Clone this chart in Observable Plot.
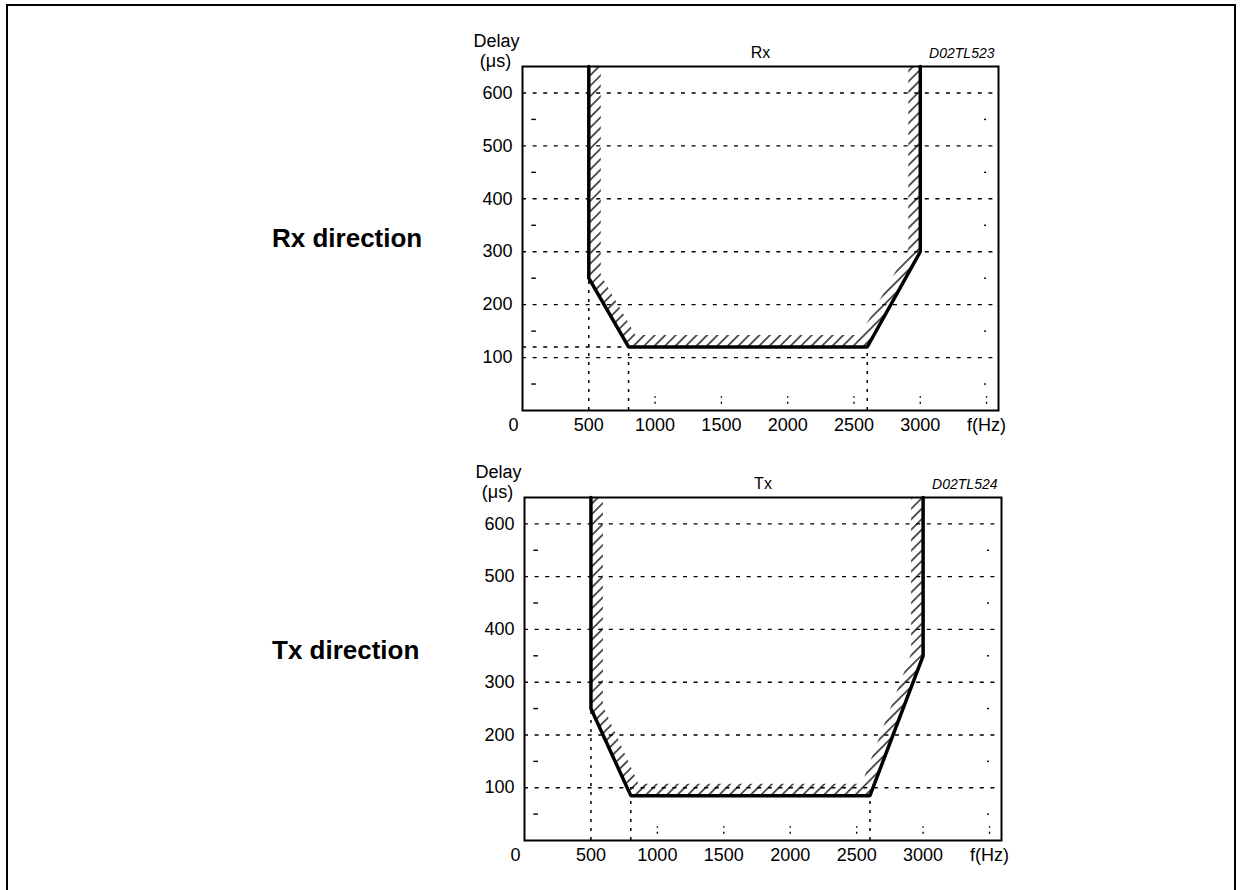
<!DOCTYPE html>
<html><head><meta charset="utf-8">
<script src="https://cdn.jsdelivr.net/npm/d3@7"></script>
<script src="https://cdn.jsdelivr.net/npm/@observablehq/plot@0.6"></script>
<style>
body{margin:0;background:#fff;font-family:"Liberation Sans",Arial,Helvetica,sans-serif;}
#page{position:relative;width:1242px;height:890px;overflow:hidden;background:#fff;}
#border{position:absolute;left:6px;top:4px;width:1230px;height:900px;border:2.4px solid #000;box-sizing:border-box;}
.dir{position:absolute;font-weight:bold;font-size:26px;line-height:1;white-space:nowrap;}
.chart{position:absolute;left:0;}
</style></head>
<body><div id="page"><div id="border"></div>
<div class="dir" style="left:272px;top:225px;">Rx direction</div>
<div class="dir" style="left:272px;top:637px;">Tx direction</div>
<div class="chart" id="rx" style="top:0px;"></div>
<div class="chart" id="tx" style="top:430px;"></div>
</div>
<script>
// ---- data ----
const freqTicks = [500, 1000, 1500, 2000, 2500, 3000, 3500];
const delayTicks = [100, 200, 300, 400, 500, 600];
const minorDelay = [50, 150, 250, 350, 450, 550];
const minorFreq = [1000, 1500, 2000, 2500, 3000, 3500];

const rxFreq = [500, 500, 800, 2600, 3000, 3000];
const rxDelay = [650, 250, 120, 120, 300, 650];
const rxDropFreq = [500, 800, 2600];
const rxDropDelay = [250, 120, 120];
const rxGuideDelay = [120];

const txFreq = [500, 500, 800, 2600, 3000, 3000];
const txDelay = [650, 250, 85, 85, 350, 650];
const txDropFreq = [500, 800, 2600];
const txDropDelay = [250, 85, 85];
const txGuideDelay = [];

function asG(el) {
  if (!el) return null;
  return el.tagName.toLowerCase() === "g" ? el : el.parentNode;
}

function makeChart(cfg) {
  const curve = cfg.freq.map((f, i) => ({f, d: cfg.delay[i]}));
  const drops = cfg.dropFreq.map((f, i) => ({f, d: cfg.dropDelay[i]}));
  const svg = Plot.plot({
    width: 1242,
    height: 440,
    marginLeft: cfg.left,
    marginRight: 1242 - cfg.right,
    marginTop: cfg.top,
    marginBottom: 440 - cfg.bottom,
    style: {fontSize: "18px", fontFamily: '"Liberation Sans", Arial, Helvetica, sans-serif', background: "transparent", overflow: "visible"},
    x: {domain: [0, 3590], ticks: freqTicks, tickSize: 0, tickPadding: 8, label: null,
        tickFormat: d => d === 3500 ? "f(Hz)" : String(d)},
    y: {domain: [0, 650], ticks: delayTicks, tickSize: 0, tickPadding: 10, label: null},
    marks: [
      Plot.ruleY(delayTicks, {stroke: "black", strokeWidth: 1.4, strokeDasharray: "4,6.6"}),
      Plot.ruleY(cfg.guide, {x1: 0, x2: 800, stroke: "black", strokeWidth: 1.4, strokeDasharray: "4,6.6"}),
      Plot.ruleX(drops, {x: "f", y1: 0, y2: "d", stroke: "black", strokeWidth: 1.5, strokeDasharray: "3,6"}),
      Plot.ruleY(minorDelay, {x1: 70, x2: 105, stroke: "black", strokeWidth: 1.4}),
      Plot.ruleY(minorDelay, {x1: 3485, x2: 3500, stroke: "black", strokeWidth: 1.4}),
      Plot.ruleX(minorFreq, {y1: 12, y2: 26, stroke: "black", strokeWidth: 1.4, strokeDasharray: "2,4"}),
      Plot.line(curve, {x: "f", y: "d", stroke: "black", strokeWidth: 24, strokeLinejoin: "miter"}),
      Plot.areaY(curve, {x: "f", y1: "d", y2: 650, fill: "none", stroke: "none"}),
      Plot.line(curve, {x: "f", y: "d", stroke: "black", strokeWidth: 3.5, strokeLinejoin: "miter"}),
      Plot.frame({stroke: "black", strokeWidth: 2}),
      Plot.text([cfg.title], {text: d => d, frameAnchor: "top", dy: -8.5, lineAnchor: "bottom", fontSize: 16}),
      Plot.text([cfg.code], {text: d => d, frameAnchor: "top-right", textAnchor: "end", dx: -4, dy: -9, lineAnchor: "bottom", fontSize: 14, fontStyle: "italic"}),
      Plot.text(["Delay"], {text: d => d, frameAnchor: "top-left", textAnchor: "middle", dx: -26, dy: -20, lineAnchor: "bottom", fontSize: 18}),
      Plot.text(["(μs)"], {text: d => d, frameAnchor: "top-left", textAnchor: "middle", dx: -27, dy: 0.5, lineAnchor: "bottom", fontSize: 18}),
      Plot.text(["0"], {text: d => d, frameAnchor: "bottom-left", dx: -14, dy: 8, lineAnchor: "top", fontSize: 18})
    ]
  });
  // hatch pattern clipped to the inside of the boundary
  const ns = "http://www.w3.org/2000/svg";
  const id = cfg.id;
  const T = 7.4;
  const defs = document.createElementNS(ns, "defs");
  const pat = document.createElementNS(ns, "pattern");
  pat.setAttribute("id", "hp" + id);
  pat.setAttribute("width", String(T));
  pat.setAttribute("height", String(T));
  pat.setAttribute("patternUnits", "userSpaceOnUse");
  pat.setAttribute("patternTransform", "rotate(45)");
  const ln = document.createElementNS(ns, "line");
  ln.setAttribute("x1", String(T / 2)); ln.setAttribute("x2", String(T / 2));
  ln.setAttribute("y1", "-1"); ln.setAttribute("y2", String(T + 1));
  ln.setAttribute("stroke", "black"); ln.setAttribute("stroke-width", "1.3");
  pat.appendChild(ln);
  defs.appendChild(pat);
  const clip = document.createElementNS(ns, "clipPath");
  clip.setAttribute("id", "cp" + id);
  const areaG = asG(svg.querySelector('[aria-label="area"]'));
  const areaPath = areaG && areaG.querySelector("path");
  if (areaPath) {
    const ap = areaPath.cloneNode(true);
    if (areaG.getAttribute("transform")) ap.setAttribute("transform", areaG.getAttribute("transform"));
    clip.appendChild(ap);
  }
  defs.appendChild(clip);
  svg.insertBefore(defs, svg.firstChild);
  const hatchG = asG(svg.querySelector('[stroke-width="24"]'));
  if (hatchG) {
    hatchG.setAttribute("stroke", "url(#hp" + id + ")");
    hatchG.querySelectorAll("path").forEach(p => p.setAttribute("stroke", "url(#hp" + id + ")"));
    const wrap = document.createElementNS(ns, "g");
    if (areaPath) wrap.setAttribute("clip-path", "url(#cp" + id + ")");
    hatchG.parentNode.insertBefore(wrap, hatchG);
    wrap.appendChild(hatchG);
  }
  return svg;
}

document.getElementById("rx").appendChild(makeChart({
  id: "rx", title: "Rx", code: "D02TL523",
  freq: rxFreq, delay: rxDelay, dropFreq: rxDropFreq, dropDelay: rxDropDelay, guide: rxGuideDelay,
  left: 522, right: 998, top: 66, bottom: 410
}));
document.getElementById("tx").appendChild(makeChart({
  id: "tx", title: "Tx", code: "D02TL524",
  freq: txFreq, delay: txDelay, dropFreq: txDropFreq, dropDelay: txDropDelay, guide: txGuideDelay,
  left: 524, right: 1001, top: 67, bottom: 410
}));
</script>
</body></html>
